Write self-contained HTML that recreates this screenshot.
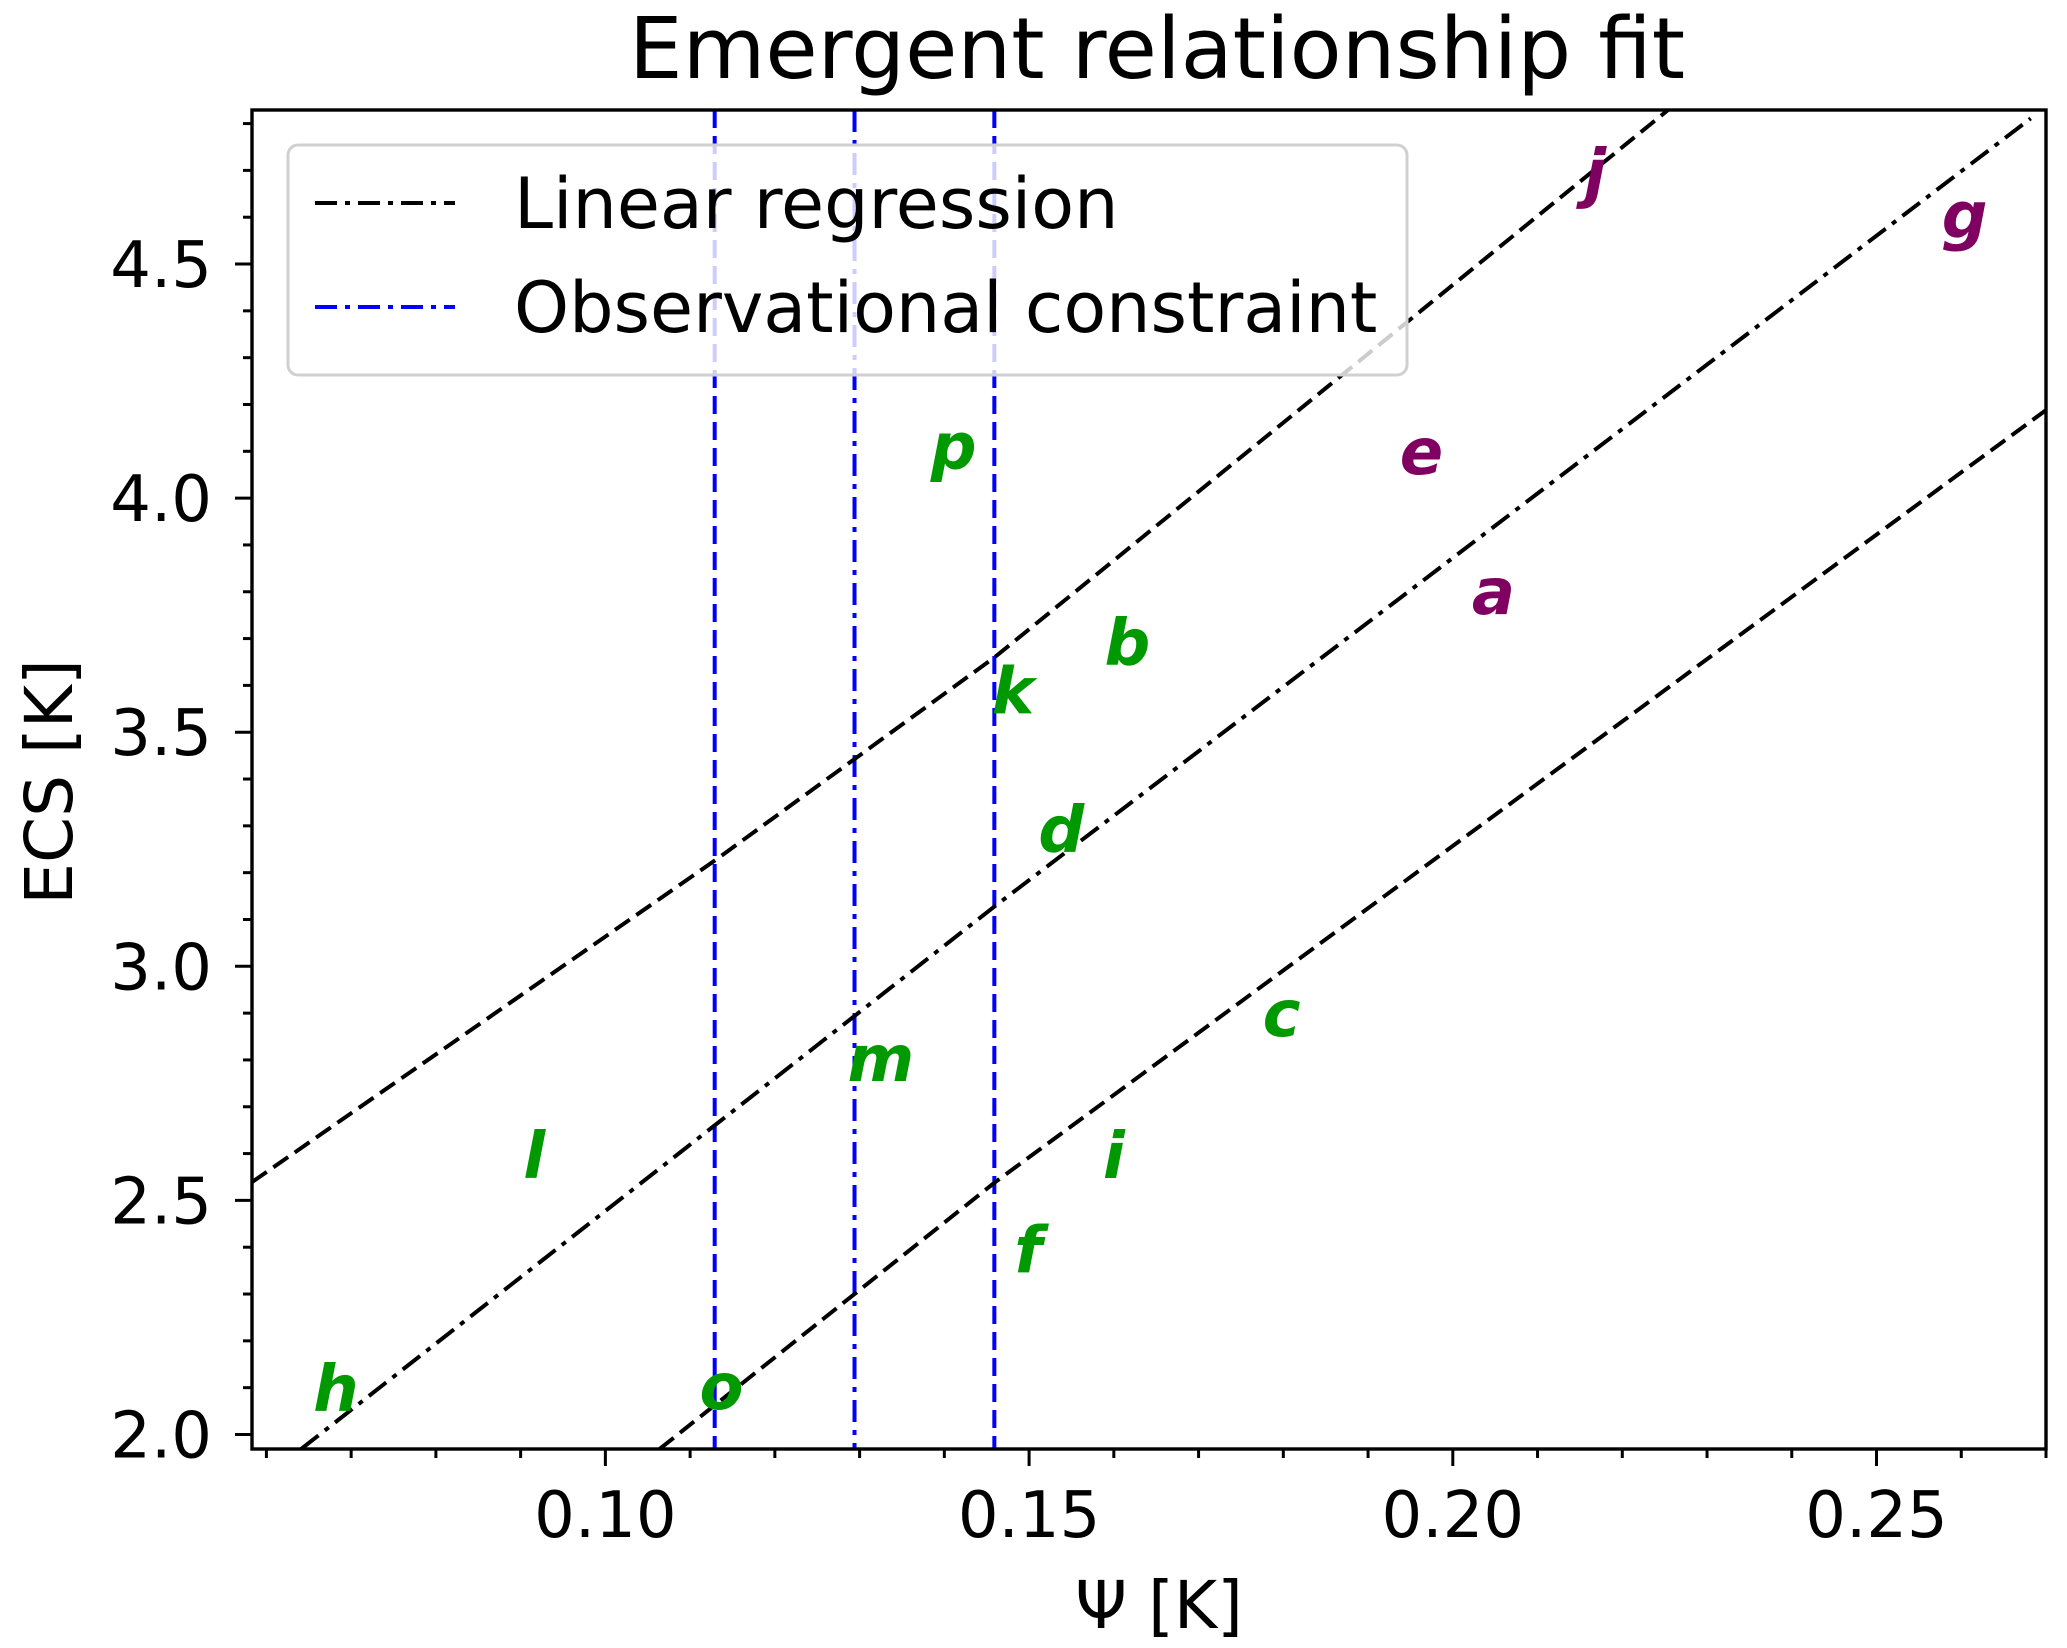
<!DOCTYPE html>
<html><head><meta charset="utf-8"><style>
html,body{margin:0;padding:0;background:#fff}
svg{display:block}
text{font-family:"DejaVu Sans","Liberation Sans",sans-serif}
</style></head><body>
<svg id="chart" width="2067" height="1648" viewBox="0 0 2067 1648" xmlns="http://www.w3.org/2000/svg">
<rect width="2067" height="1648" fill="#fff"/>
<text x="1157" y="78" font-size="85" text-anchor="middle">Emergent relationship fit</text>
<g id="plot"></g>
<text x="1159" y="1628" font-size="66" text-anchor="middle">Ψ [K]</text>
<text x="0" y="0" font-size="66" text-anchor="middle" transform="translate(72,782) rotate(-90)">ECS [K]</text>
</svg>
<script>
const xTicks=[0.10,0.15,0.20,0.25];
const xTickLabels=["0.10","0.15","0.20","0.25"];
const yTicks=[2.0,2.5,3.0,3.5,4.0,4.5];
const yTickLabels=["2.0","2.5","3.0","3.5","4.0","4.5"];
const regX=[0.0641,0.146,0.2682];
const regY=[1.969,3.129,4.811];
const upperX=[0.0583,0.113,0.146,0.2254];
const upperY=[2.539,3.227,3.661,4.829];
const lowerX=[0.1064,0.146,0.270];
const lowerY=[1.969,2.539,4.188];
const obsCentral=0.1294;
const obsLow=0.1129;
const obsHigh=0.1459;
const modelNames=["j","g","p","e","a","b","k","d","c","m","l","i","f","h","o"];
const modelX=[0.2168,0.2604,0.1411,0.1963,0.2048,0.1616,0.1481,0.1538,0.1798,0.1325,0.0916,0.1600,0.1499,0.0682,0.1137];
const modelY=[4.694,4.604,4.110,4.099,3.800,3.691,3.587,3.291,2.898,2.802,2.595,2.595,2.393,2.097,2.101];
const modelGroup=["p","p","g","p","p","g","g","g","g","g","g","g","g","g","g"];

const L=252,R=2046,T=110,B=1449;
const xmin=0.0583,xmax=0.2700,ymin=1.969,ymax=4.829;
const X=v=>L+(v-xmin)/(xmax-xmin)*(R-L);
const Y=v=>B-(v-ymin)/(ymax-ymin)*(B-T);
const NS="http://www.w3.org/2000/svg";
const g=document.getElementById('plot');
function mk(tag,attrs,parent){const e=document.createElementNS(NS,tag);for(const k in attrs)e.setAttribute(k,attrs[k]);(parent||g).appendChild(e);return e;}

const DASH='18 8', DASHDOT='22 8 5 8', LW=4;
const defs=mk('defs',{});
const cp=mk('clipPath',{id:'clip'},defs);
mk('rect',{x:L,y:T,width:R-L,height:B-T},cp);
const inner=mk('g',{'clip-path':'url(#clip)'});



function poly(xs,ys,dash,color,name){
  const pts=xs.map((x,i)=>X(x)+','+Y(ys[i])).join(' ');
  const p=mk('polyline',{points:pts,fill:'none',stroke:color,'stroke-width':LW,'stroke-dasharray':dash},inner);
  
  
}
function vline(v,dash,name){
  const l=mk('line',{x1:X(v),x2:X(v),y1:T,y2:B,stroke:'#0000ff','stroke-width':LW,'stroke-dasharray':dash},inner);
  
  
}
vline(obsLow,DASH,'obs-lower-bound-line');
vline(obsHigh,DASH,'obs-upper-bound-line');
vline(obsCentral,DASHDOT,'obs-central-line');
poly(upperX,upperY,DASH,'#000','upper-prediction-band');
poly(lowerX,lowerY,DASH,'#000','lower-prediction-band');
poly(regX,regY,DASHDOT,'#000','regression-line');

modelNames.forEach((n,i)=>{
  const t=mk('text',{x:X(modelX[i]),y:Y(modelY[i])+22,'font-size':64,'font-weight':'bold','font-style':'italic','text-anchor':'middle',fill:modelGroup[i]==='p'?'#7f0060':'#009900'},inner);
  t.textContent=n;
  
  
});

const lg=mk('g',{});


mk('rect',{x:288,y:145,width:1119,height:230,rx:10,fill:'rgba(255,255,255,0.8)',stroke:'#d0d0d0','stroke-width':3},lg);
const le1=mk('line',{x1:315,x2:455,y1:203,y2:203,stroke:'#000','stroke-width':LW,'stroke-dasharray':DASHDOT},lg);


const le2=mk('line',{x1:315,x2:455,y1:307,y2:307,stroke:'#0000ff','stroke-width':LW,'stroke-dasharray':DASHDOT},lg);


const lt1=mk('text',{x:514,y:228,'font-size':70},lg);lt1.textContent='Linear regression';


const lt2=mk('text',{x:514,y:332,'font-size':70},lg);lt2.textContent='Observational constraint';



const fr=mk('rect',{x:L,y:T,width:R-L,height:B-T,fill:'none',stroke:'#000','stroke-width':3.4});



for(let k=6;k<=27;k++){
  const v=k/100;const x=X(v);
  const major=xTicks.some(t=>Math.abs(t-v)<1e-9);
  const tk=mk('line',{x1:x,x2:x,y1:B,y2:B+(major?17:9),stroke:'#000','stroke-width':3});
  
  
}
xTicks.forEach((v,i)=>{
  const t=mk('text',{x:X(v),y:1537,'font-size':64,'text-anchor':'middle'});
  t.textContent=xTickLabels[i];
  
  
});
for(let k=20;k<=48;k++){
  const v=k/10;const y=Y(v);
  const major=yTicks.some(t=>Math.abs(t-v)<1e-9);
  const tk=mk('line',{x1:L,x2:L-(major?17:9),y1:y,y2:y,stroke:'#000','stroke-width':3});
  
  
}
yTicks.forEach((v,i)=>{
  const t=mk('text',{x:212,y:Y(v)+23,'font-size':64,'text-anchor':'end'});
  t.textContent=yTickLabels[i];
  
  
});
</script>
</body></html>
